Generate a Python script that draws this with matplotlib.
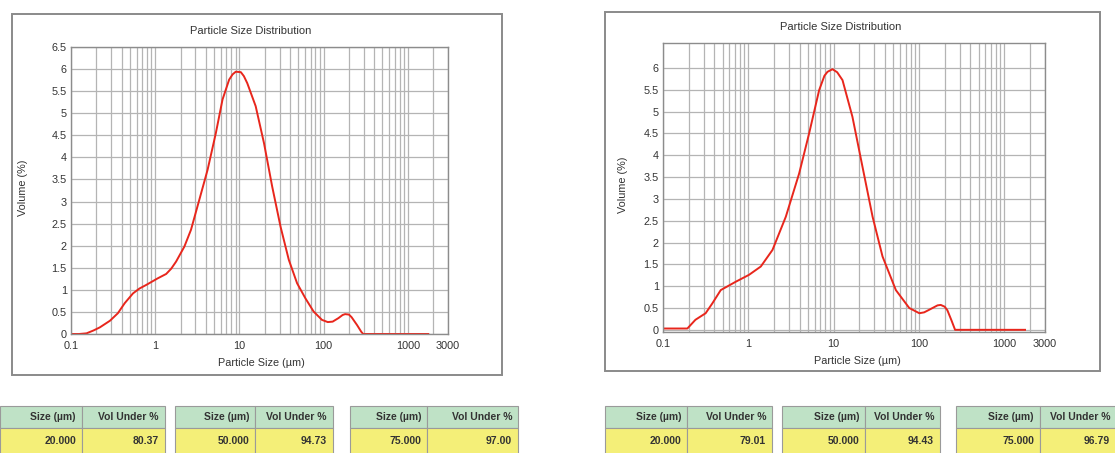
import numpy as np
import matplotlib as mpl
import matplotlib.pyplot as plt
from matplotlib.patches import Rectangle
from matplotlib.ticker import FixedLocator, LogLocator, NullFormatter

mpl.rcParams['font.family'] = ['Liberation Sans', 'DejaVu Sans']

W, H = 1115, 453

# left sample: particle size (um) vs volume (%)
left_size = [0.1, 0.125, 0.153, 0.185, 0.22, 0.29, 0.36, 0.435, 0.545,
             0.65, 0.78, 1.07, 1.35, 1.55, 1.77, 2.22, 2.66, 3.34, 4.19,
             5.25, 6.3, 7.55, 8.3, 9.05, 10.4, 11.3, 12.4, 15.6, 19.6, 24.5,
             30.8, 38.6, 48.4, 60.7, 76.0, 95.5, 112, 128, 150, 168, 180,
             200, 215, 250, 280, 295, 400, 1000, 1750]
left_vol = [0.0, 0.0, 0.015, 0.08, 0.15, 0.30, 0.47, 0.70, 0.92,
            1.03, 1.11, 1.26, 1.36, 1.48, 1.64, 1.98, 2.36, 3.04, 3.72,
            4.55, 5.31, 5.76, 5.88, 5.94, 5.93, 5.84, 5.68, 5.16, 4.32, 3.34,
            2.43, 1.68, 1.15, 0.81, 0.51, 0.32, 0.27, 0.28, 0.36, 0.43, 0.45,
            0.44, 0.38, 0.2, 0.05, 0.0, 0.0, 0.0, 0.0]

# right sample
right_size = [0.1, 0.193, 0.24, 0.316, 0.38, 0.475, 0.6, 0.71, 1.02, 1.40,
              1.92, 2.75, 3.94, 5.16, 6.76, 7.8, 8.47, 9.69, 11.0, 12.7,
              16.6, 21.8, 28.6, 37.4, 53.6, 76.9, 101, 115, 132, 165, 180,
              200, 215, 240, 265, 400, 1000, 1750]
right_vol = [0.03, 0.03, 0.23, 0.38, 0.61, 0.91, 1.02, 1.10, 1.26, 1.45,
             1.83, 2.59, 3.58, 4.50, 5.49, 5.82, 5.91, 5.97, 5.9, 5.72,
             4.88, 3.73, 2.59, 1.68, 0.91, 0.50, 0.38, 0.4, 0.46, 0.56, 0.57,
             0.53, 0.45, 0.22, 0.0, 0.0, 0.0, 0.0]

x_ticks = [0.1, 1, 10, 100, 1000, 3000]
x_tick_labels = ['0.1', '1', '10', '100', '1000', '3000']
left_y_ticks = np.arange(0, 6.51, 0.5)
right_y_ticks = np.arange(0, 6.01, 0.5)

table_size = ['20.000', '50.000', '75.000']
left_under = ['80.37', '94.73', '97.00']
right_under = ['79.01', '94.43', '96.79']
table_head = ['Size (\u00b5m)', 'Vol Under %']

fig = plt.figure(figsize=(W / 100, H / 100), dpi=100)


def fx(px):
    return px / W


def fy(py):
    return 1 - py / H


def frame(x0, y0, x1, y1):
    fig.patches.append(Rectangle((fx(x0), fy(y1)), fx(x1) - fx(x0),
                                 fy(y0) - fy(y1), transform=fig.transFigure,
                                 fill=False, ec='#8a8a8a', lw=1.4))


def chart(box, sizes, vols, yticks, ylim, title_x, ylab_x, xlab_x):
    x0, y0, x1, y1 = box
    ax = fig.add_axes([fx(x0), fy(y1), fx(x1) - fx(x0), fy(y0) - fy(y1)])
    ax.set_xscale('log')
    ax.set_xlim(0.1, 3000)
    ax.set_ylim(*ylim)
    ax.xaxis.set_major_locator(FixedLocator(x_ticks))
    ax.set_xticklabels(x_tick_labels)
    ax.xaxis.set_minor_locator(LogLocator(base=10, subs=np.arange(2, 10)))
    ax.xaxis.set_minor_formatter(NullFormatter())
    ax.set_yticks(yticks)
    ax.set_yticklabels([f'{v:g}' for v in yticks])
    ax.grid(True, which='both', axis='x', color='#b4b4b4', lw=0.9)
    ax.grid(True, which='major', axis='y', color='#b4b4b4', lw=0.9)
    ax.tick_params(which='both', length=0, labelsize=7.8, colors='#333333',
                   pad=3)
    ax.tick_params(axis='x', pad=5)
    for s in ax.spines.values():
        s.set_color('#8c8c8c')
        s.set_linewidth(1.0)
    ax.plot(sizes, vols, color='#e8261c', lw=1.4, solid_joinstyle='round')
    fig.text(fx(title_x), fy(y0 - 16), 'Particle Size Distribution',
             ha='center', va='center', fontsize=8, color='#333333')
    fig.text(fx(ylab_x), fy((y0 + y1) / 2 - 3), 'Volume (%)', rotation=90,
             ha='center', va='center', fontsize=7.8, color='#333333')
    fig.text(fx(xlab_x), fy(y1 + 29), 'Particle Size (\u00b5m)',
             ha='center', va='center', fontsize=7.8, color='#333333')
    return ax


def table(x0, xm, x1, size, under):
    rows = [(406, 428, '#bfe2c6', table_head),
            (428, 454, '#f4ef78', [size, under])]
    for top, bot, col, texts in rows:
        for (a, b), t in zip([(x0, xm), (xm, x1)], texts):
            fig.patches.append(Rectangle((fx(a), fy(bot)), fx(b) - fx(a),
                                         fy(top) - fy(bot),
                                         transform=fig.transFigure,
                                         fc=col, ec='#9a9a9a', lw=0.8))
            fig.text(fx(b - 6), fy((top + bot) / 2), t, ha='right',
                     va='center', fontsize=7.5, fontweight='bold',
                     color='#333333')


frame(12, 14, 502, 375)
frame(605, 12, 1100, 371)

chart((71, 47, 448, 334), left_size, left_vol, left_y_ticks, (0, 6.5),
      251, 23, 261)
chart((663, 43, 1045, 332), right_size, right_vol, right_y_ticks,
      (-0.05, 6.57), 841, 623, 857)

left_cols = [(0, 82, 165), (175, 255, 333), (350, 427, 518)]
right_cols = [(605, 687, 772), (782, 865, 940), (956, 1040, 1116)]
for (a, m, b), s, u in zip(left_cols, table_size, left_under):
    table(a, m, b, s, u)
for (a, m, b), s, u in zip(right_cols, table_size, right_under):
    table(a, m, b, s, u)

fig.savefig('out.png', dpi=100)
